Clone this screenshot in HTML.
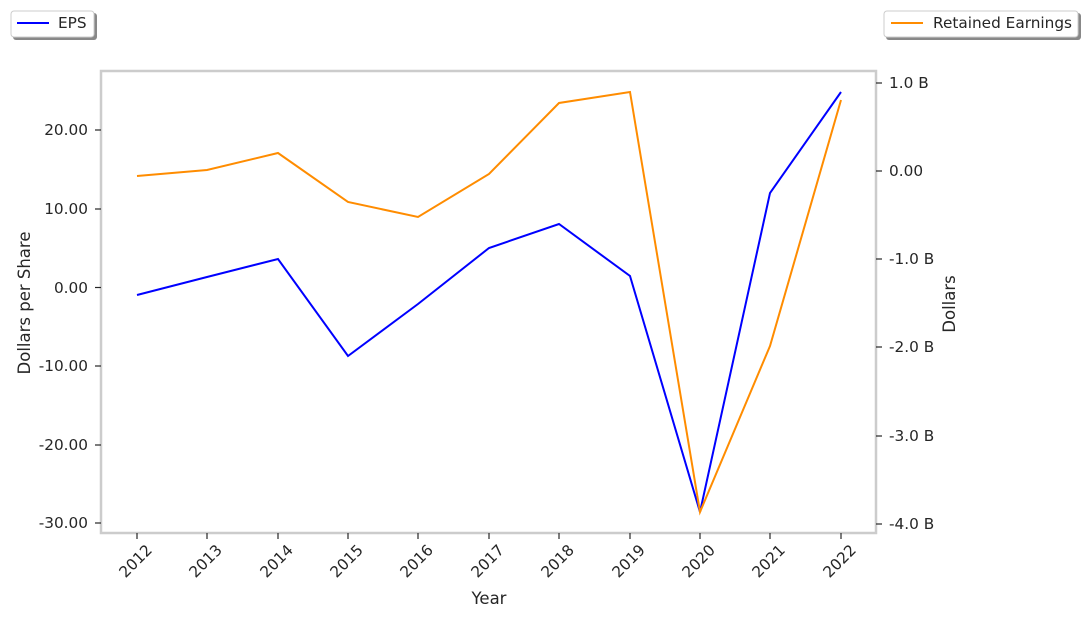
<!DOCTYPE html>
<html><head><style>body{margin:0;background:#fff}svg{display:block}text{font-family:"DejaVu Sans","Liberation Sans",sans-serif;fill:#262626}</style></head>
<body>
<svg width="1088" height="618" viewBox="0 0 1088 618" xmlns="http://www.w3.org/2000/svg">
<rect x="101" y="71" width="775" height="462" fill="#fff" stroke="#cccccc" stroke-width="2.5"/>
<g stroke="#262626" stroke-width="1.2">
<line x1="95" y1="130" x2="101" y2="130"/><line x1="95" y1="209" x2="101" y2="209"/><line x1="95" y1="287.5" x2="101" y2="287.5"/><line x1="95" y1="366" x2="101" y2="366"/><line x1="95" y1="445" x2="101" y2="445"/><line x1="95" y1="523" x2="101" y2="523"/>
<line x1="876" y1="83" x2="882" y2="83"/><line x1="876" y1="171" x2="882" y2="171"/><line x1="876" y1="259" x2="882" y2="259"/><line x1="876" y1="347" x2="882" y2="347"/><line x1="876" y1="436" x2="882" y2="436"/><line x1="876" y1="524" x2="882" y2="524"/>
<line x1="137" y1="533" x2="137" y2="539"/><line x1="207" y1="533" x2="207" y2="539"/><line x1="278" y1="533" x2="278" y2="539"/><line x1="348" y1="533" x2="348" y2="539"/><line x1="418" y1="533" x2="418" y2="539"/><line x1="489" y1="533" x2="489" y2="539"/><line x1="559" y1="533" x2="559" y2="539"/><line x1="630" y1="533" x2="630" y2="539"/><line x1="700" y1="533" x2="700" y2="539"/><line x1="770" y1="533" x2="770" y2="539"/><line x1="841" y1="533" x2="841" y2="539"/>
</g>
<g font-size="15.3" text-anchor="end">
<text x="88" y="135">20.00</text><text x="88" y="214">10.00</text><text x="88" y="293">0.00</text><text x="88" y="371">-10.00</text><text x="88" y="450">-20.00</text><text x="88" y="528">-30.00</text>
</g>
<g font-size="15.3">
<text x="889" y="88">1.0 B</text><text x="889" y="176">0.00</text><text x="889" y="264">-1.0 B</text><text x="889" y="352">-2.0 B</text><text x="889" y="441">-3.0 B</text><text x="889" y="529">-4.0 B</text>
</g>
<g font-size="15.3" text-anchor="end">
<text transform="translate(153,551) rotate(-45)">2012</text><text transform="translate(223,551) rotate(-45)">2013</text><text transform="translate(294,551) rotate(-45)">2014</text><text transform="translate(364,551) rotate(-45)">2015</text><text transform="translate(434,551) rotate(-45)">2016</text><text transform="translate(505,551) rotate(-45)">2017</text><text transform="translate(575,551) rotate(-45)">2018</text><text transform="translate(646,551) rotate(-45)">2019</text><text transform="translate(716,551) rotate(-45)">2020</text><text transform="translate(786,551) rotate(-45)">2021</text><text transform="translate(857,551) rotate(-45)">2022</text>
</g>
<text x="489" y="604" font-size="16.5" text-anchor="middle">Year</text>
<text transform="translate(30,303) rotate(-90)" font-size="16.5" text-anchor="middle">Dollars per Share</text>
<text transform="translate(955,304) rotate(-90)" font-size="16.5" text-anchor="middle">Dollars</text>
<polyline fill="none" stroke="#0000ff" stroke-width="2" points="137,295 207,277 278,259 348,356 418,304 489,248 559,224 630,276 700,512 770,193 841,92"/>
<polyline fill="none" stroke="#ff8c00" stroke-width="2" points="137,176 207,170 278,153 348,202 418,217 489,174 559,103 630,92 700,512 770,346 841,100"/>
<rect x="13" y="13" width="84" height="27" rx="3" fill="#888"/>
<rect x="11" y="11" width="83" height="26" rx="3" fill="#fff" stroke="#ccc"/>
<line x1="17" y1="23" x2="49" y2="23" stroke="#0000ff" stroke-width="2"/>
<text x="58" y="28" font-size="15.3">EPS</text>
<rect x="886" y="13" width="195" height="27" rx="3" fill="#888"/>
<rect x="884" y="11" width="194" height="26" rx="3" fill="#fff" stroke="#ccc"/>
<line x1="891" y1="23" x2="923" y2="23" stroke="#ff8c00" stroke-width="2"/>
<text x="933" y="28" font-size="15.3">Retained Earnings</text>
</svg>
</body></html>
